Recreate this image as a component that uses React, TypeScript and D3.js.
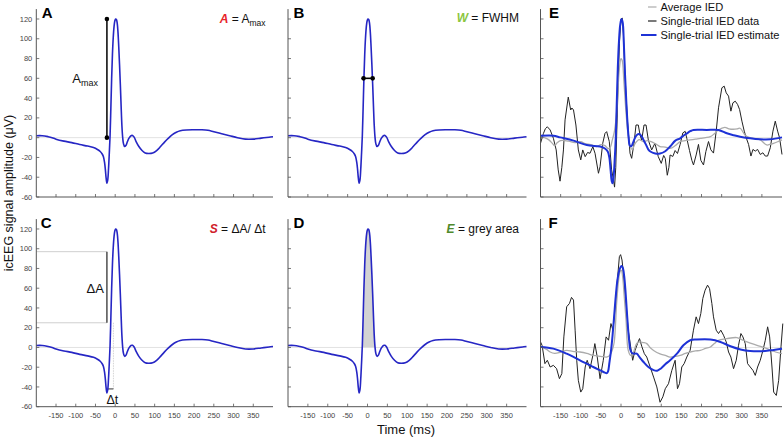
import React from 'react';
import * as d3 from 'd3';

// ---------- data ----------
const X_TICKS = [-150, -100, -50, 0, 50, 100, 150, 200, 250, 300, 350];
const Y_TICKS = [-60, -40, -20, 0, 20, 40, 60, 80, 100, 120];
const X_DOMAIN = [-200, 400];
const Y_DOMAIN = [-60, 130];

// average IED waveform (panels A-D)
const AVG_T = [-200, -185, -170, -160, -150, -130, -110, -90, -70, -55, -45, -38, -33, -30, -27, -25, -23, -21, -19, -17, -15, -13, -11, -9, -7, -5, -3, -1, 1, 3, 5, 7, 9, 11, 13, 15, 17, 19, 21, 24, 27, 31, 35, 40, 44, 48, 53, 60, 68, 76, 85, 95, 105, 115, 125, 135, 145, 155, 165, 180, 200, 220, 235, 250, 270, 290, 310, 330, 350, 370, 390, 400];
const AVG_V = [2, 2, 1, 0, -1.5, -3.5, -5, -7, -8.5, -10, -12, -14, -16.5, -19, -25, -32, -41, -46, -43, -32, -16, 2, 30, 60, 84, 101, 112, 118, 120, 119.5, 116, 107, 92, 74, 54, 32, 12, 0, -6, -9, -8, -4, -0.5, 2, 2.2, 0.5, -4, -9, -13, -15.5, -16, -15.5, -13, -9, -4.5, -0.5, 3, 5.5, 7, 7.8, 8, 8, 7.5, 6, 4, 2, 0, -1.5, -1.5, -0.5, 0.5, 1];

// annotation values
const AMAX_T = -21;
const AMAX_V = 120;
const FWHM_T = [-10, 13];
const FWHM_V = 60;
const DA_V = [25, 97];
const DT_T = [-19, -4.5];
const DT_V = -42;
const AREA_T = [-18, 24];

// panel E
const E_DATA_T = [-200, -193, -188, -183, -176, -168, -161, -156, -151.5, -147, -143, -139, -131, -125, -122, -118, -112, -106, -100, -95, -89, -83, -77, -70, -64.5, -56, -52, -45.4, -39.7, -35.6, -29, -23.3, -19, -16, -13, -9, -4, 0, 3, 6, 10, 15.8, 22.4, 26.5, 32.3, 37.3, 43, 47.3, 51.4, 57.2, 62.2, 67.9, 76.2, 84.3, 92.6, 100, 106, 110, 115, 119, 122, 128.7, 134.5, 140.3, 147, 153.6, 159.4, 163.5, 170.2, 176, 180.1, 186.7, 192.5, 198.3, 205, 210.8, 217.4, 223.2, 229.8, 236.5, 242.3, 250.6, 256.4, 261.4, 267.2, 273, 278, 283.8, 289.6, 294.6, 300.4, 306.2, 311.2, 317, 322.8, 327.8, 333.6, 339.4, 346, 352.6, 358.4, 364.2, 370.9, 377.5, 383.3, 389.1, 394, 400];
const E_DATA_V = [-5.7, 4, 9, 11, 7.8, -0.6, -12.4, -32.6, -44, -30, -12.4, 18, 41, 28, 30, 28, 12.8, -12.4, -22.5, -12.4, -19.2, -15, -15.8, -9.1, -15.8, -36, -29.3, -5.7, 4.4, 6.1, -4, -32.6, -42, -50, -30, 28, 95, 120, 121, 105, 62, 18, -15.8, -20.9, -5.7, 12.8, 12.8, 2.7, -2.4, 12.8, 12.8, -2.4, -12.4, -5.7, -19.2, -26, -18, -21, -38, -30, -17.5, -19, -13, -16, -6.8, 4.8, 6.4, -0.7, -13, -22.9, -27.6, -17.5, -6.8, -22.9, -27.6, -14.1, -3.9, -12.3, -15.6, 6.5, 30.2, 50.4, 52.1, 45.3, 42, 26.8, 35.2, 36.9, 33.6, 28.5, 16.7, 6.6, -0.2, -6.9, -18.6, -11.9, -13.6, -11.9, -17, -15.3, -18.6, -18.6, -10.2, 6.6, 16.7, 6.6, -0.2, -17];
const E_AVG_T = [-200, -190, -180, -170, -165, -158, -150, -130, -115, -100, -90, -75, -60, -50, -40, -32, -27, -22, -17, -12, -8, -4, 0, 3, 7, 12, 17, 22, 28, 35, 45, 55, 65, 75, 85, 97, 110, 122, 135, 147, 160, 172, 185, 197, 210, 222, 232, 242, 258, 268, 279, 290, 296, 308, 320, 329, 346, 362, 372, 379, 390, 400];
const E_AVG_V = [1, 0, -2, -6, -8, -5, -3, -3.5, -5, -4, -6, -7, -9, -7, -8, -11, -10, -3, 5, 20, 45, 70, 80, 78, 58, 28, 5, -8, -12, -6, -2, -4, -3, -4, -6, -9, -9.5, -10.8, -8, -4, -3, -2.3, -1.5, -0.7, 0, 1, 4, 7.8, 10.4, 9, 8.5, 9, 9.5, 2.8, 0, -0.7, -2.3, -7.4, -6.5, -5.7, -4, -2.3];
const E_EST_T = [-200, -168, -151, -118, -85, -52, -40, -33, -29, -26, -23, -21, -19, -16, -13, -11, -8, -5, -2, 1, 4, 7, 10, 13, 16, 19, 22, 26, 30, 35, 40, 45, 50, 55, 62, 68, 75, 85, 97, 109, 122, 135, 147, 155, 164, 172, 180, 213, 242, 263, 280, 296, 321, 346, 371, 400];
const E_EST_V = [1.9, 2, 0.3, -3, -7.5, -9, -11, -14, -20, -32, -44, -46, -42, -25, 0, 28, 70, 98, 114, 120, 117, 96, 64, 38, 16, 0, -8, -8.5, -5, 0, 3, 3.6, 2, -1.5, -7, -12, -14.5, -16, -16, -14, -9, -3, -0.7, 2, 4.4, 6.5, 7.8, 7.8, 7.8, 4.4, 2.5, 1, -0.7, -1.7, -1.7, 0.3];

// panel F
const F_DATA_T = [-200, -196, -189, -183, -176, -168, -160, -153, -147, -142, -135, -128, -123, -118, -114, -110, -106, -100, -95, -89, -84, -77, -69, -65, -59, -52, -44, -37, -31, -25, -20, -15, -9, -4, -1, 2.5, 6, 12.5, 18, 24, 29, 35, 41, 46, 52, 58, 64, 72.5, 81, 89, 97, 104, 110, 118, 126.3, 134.5, 140.3, 145.3, 151, 156.9, 163.5, 171.8, 180, 186.7, 192.5, 198.3, 203.3, 209, 215, 220, 225.7, 229.8, 236.5, 242.3, 248, 254.7, 261.4, 267.2, 273, 279.6, 286.3, 292, 297.9, 302.9, 308.7, 314.5, 321.1, 327.8, 333.6, 339.4, 346, 352.7, 358.5, 364.3, 369.3, 375.1, 379.3, 385.9, 391.7, 397.5, 402];
const F_DATA_V = [5.6, 2, -16.4, -13, -19.8, -18.1, -21.5, -31.6, -26.5, 10.7, 41.2, 44.6, 50.7, 48, 17.5, -13, -33.3, -45.2, -41.8, -19.8, -13, -21.5, -6.3, 3.9, -9.7, -31.6, -13, 10.7, 7.3, 24.2, 17.5, 37.8, 68.3, 92, 94, 88.6, 75, 44.6, 17.5, 0.6, -13, -2.9, 3.9, 9, 0.6, -6.3, -9.7, -19.8, -30, -40, -55.5, -50, -41.8, -36.7, -23.2, -13, -41.8, -36.7, -19.8, -16.4, -9.7, -2.9, 17.5, 31, 24.2, 34.4, 49.6, 58, 63.1, 59.7, 44.6, 31, 17.5, 14.1, 17.5, 12.4, 5.6, -4.6, -9.7, -21.5, -13, 2.2, 14.1, 10.7, 3.9, -16.4, -19.8, -23.2, -28.3, -19.8, -13, -2.9, 7.3, 20.9, 10.7, -19.8, -45.2, -48.6, -33.3, 0.6, 24.2];
const F_AVG_T = [-200, -185, -176, -165, -151, -135, -120, -102, -85, -69, -50, -36, -28, -22, -17, -11, -6, -2, 1, 4, 8, 12.5, 18, 24, 30, 39, 47, 55, 64, 72, 81, 97, 110, 122, 135, 147, 160, 172, 185, 197, 210, 222, 232, 242, 263, 288, 300, 313, 338, 363, 384, 400];
const F_AVG_V = [0.5, -2, -4.6, -6, -5, -3, -4, -4.6, -6, -8, -9, -9.7, -8, -3, 5, 44, 68, 77, 78, 72, 52, 28, -3, -8, -6, 4, 5.6, 5, 3.9, 0, -3, -6.5, -8, -9.7, -9, -8, -6, -4.6, -3.5, -3, -1, 0.5, 4, 7.3, 9, 10, 8, 5.6, 2.2, -1.2, -4.6, -6.3];
const F_EST_T = [-200, -168, -135, -102, -69, -50, -40, -35, -32, -29, -25, -21, -17, -13, -9, -5, -1, 2, 5, 8, 11, 14, 17, 20, 23, 27, 32, 39, 46, 56, 68, 81, 90, 100, 110, 122, 139, 155, 172, 188, 222, 247, 272, 297, 321, 346, 371, 400];
const F_EST_V = [0.5, -1.2, -6.3, -13, -19.8, -23.5, -25.5, -26, -24, -16, -4, 12, 32, 52, 68, 77, 81.5, 82.5, 80, 72, 58, 40, 22, 8, -2, -5.5, -6.3, -6.3, -9.7, -14.7, -19.8, -23, -23.5, -21, -17, -13, -6.3, 2.2, 7.3, 8, 8, 5.6, 1.2, -2, -3.6, -3.9, -2.9, -1.2];

const LEGEND = ['Average IED', 'Single-trial IED data', 'Single-trial IED estimate'];

// ---------- layout ----------
const FONT = 'Liberation Sans, Arial, Helvetica, sans-serif';
const COL_X = [36.3, 288, 540.5];
const COL_W = [236.7, 238.5, 241.5];
const ROW_Y = [9.1, 219.1];
const ROW_H = [187.9, 187.6];
const BLUE = '#2626c4';
const BLUE2 = '#1e32d6';

type Pt = [number, number];
const zip = (t: number[], v: number[]): Pt[] => t.map((d, i) => [d, v[i]]);

interface PanelProps {
  col: number;
  row: number;
  letter: string;
  letterDx: number;
  showYLabels: boolean;
  showXLabels: boolean;
  children: (x: d3.ScaleLinear<number, number>, y: d3.ScaleLinear<number, number>) => React.ReactNode;
}

function Panel({ col, row, letter, letterDx, showYLabels, showXLabels, children }: PanelProps) {
  const x0 = COL_X[col];
  const w = COL_W[col];
  const y0 = ROW_Y[row];
  const h = ROW_H[row];
  const x = d3.scaleLinear().domain(X_DOMAIN).range([x0, x0 + w]);
  const y = d3.scaleLinear().domain(Y_DOMAIN).range([y0 + h, y0]);
  const bottom = y0 + h;
  return (
    <g>
      <line x1={x0} x2={x0 + w} y1={y(0)} y2={y(0)} stroke="#e2e2e2" strokeWidth={1} />
      {children(x, y)}
      <line x1={x0} x2={x0} y1={y0} y2={bottom} stroke="#555" strokeWidth={1} />
      <line x1={x0} x2={x0 + w} y1={bottom} y2={bottom} stroke="#555" strokeWidth={1} />
      {X_TICKS.map((t) => (
        <g key={'x' + t}>
          <line x1={x(t)} x2={x(t)} y1={bottom} y2={bottom - 3} stroke="#555" strokeWidth={0.8} />
          {showXLabels && (
            <text x={x(t)} y={bottom + 11} fontSize={7.5} fill="#444" textAnchor="middle" fontFamily={FONT}>
              {t}
            </text>
          )}
        </g>
      ))}
      {Y_TICKS.map((v) => (
        <g key={'y' + v}>
          <line x1={x0} x2={x0 + 3} y1={y(v)} y2={y(v)} stroke="#555" strokeWidth={0.8} />
          {showYLabels && (
            <text x={x0 - 4} y={y(v) + 2.6} fontSize={7.5} fill="#444" textAnchor="end" fontFamily={FONT}>
              {v}
            </text>
          )}
        </g>
      ))}
      <text x={x0 + letterDx} y={y0 + 8.4} fontSize={15} fontWeight="bold" fontFamily={FONT} fill="#000">
        {letter}
      </text>
    </g>
  );
}

export default function App() {
  const smooth = d3.curveCatmullRom.alpha(0.5);
  const avg = zip(AVG_T, AVG_V);
  const mkLine = (x: any, y: any, c: any) =>
    d3.line<Pt>().x((d) => x(d[0])).y((d) => y(d[1])).curve(c);

  const avgCurve = (x: any, y: any) => (
    <path d={mkLine(x, y, smooth)(avg) || ''} fill="none" stroke={BLUE} strokeWidth={1.6} />
  );

  const trialPanel = (dataT: number[], dataV: number[], avgT: number[], avgV: number[], estT: number[], estV: number[]) =>
    (x: any, y: any) => (
      <g>
        <path d={mkLine(x, y, d3.curveLinear)(zip(dataT, dataV)) || ''} fill="none" stroke="#222" strokeWidth={1} />
        <path d={mkLine(x, y, smooth)(zip(avgT, avgV)) || ''} fill="none" stroke="#ababab" strokeWidth={1.3} />
        <path d={mkLine(x, y, smooth)(zip(estT, estV)) || ''} fill="none" stroke={BLUE2} strokeWidth={2} />
      </g>
    );

  const annot = (x0: number, w: number, yb: number, sym: string, symColor: string, rest: React.ReactNode) => (
    <text x={x0 + w - 7.5} y={yb} fontSize={12} fontFamily={FONT} textAnchor="end" fill="#111">
      <tspan fill={symColor} fontWeight="bold" fontStyle="italic">{sym}</tspan>
      {rest}
    </text>
  );

  return (
    <svg width={784} height={437} style={{ position: 'absolute', left: 0, top: 0, background: '#fff' }}>
      <rect width={784} height={437} fill="#fff" />
      {/* A */}
      <Panel col={0} row={0} letter="A" letterDx={5.5} showYLabels showXLabels={false}>
        {(x, y) => (
          <g>
            <line x1={x(AMAX_T)} x2={x(AMAX_T)} y1={y(0)} y2={y(AMAX_V)} stroke="#000" strokeWidth={1.5} />
            {avgCurve(x, y)}
            <circle cx={x(AMAX_T)} cy={y(0)} r={2.3} fill="#000" />
            <circle cx={x(AMAX_T)} cy={y(AMAX_V)} r={2.3} fill="#000" />
            <text x={x(AMAX_T) - 9} y={y(55)} fontSize={13} fontFamily={FONT} textAnchor="end" fill="#111">
              A<tspan fontSize={9} dy={3}>max</tspan>
            </text>
            {annot(COL_X[0], COL_W[0], 23, 'A', '#e8242a', <tspan> = A<tspan fontSize={8.5} dy={3}>max</tspan></tspan>)}
          </g>
        )}
      </Panel>
      {/* B */}
      <Panel col={1} row={0} letter="B" letterDx={5.5} showYLabels={false} showXLabels={false}>
        {(x, y) => (
          <g>
            {avgCurve(x, y)}
            <line x1={x(FWHM_T[0])} x2={x(FWHM_T[1])} y1={y(FWHM_V)} y2={y(FWHM_V)} stroke="#000" strokeWidth={1.6} />
            <circle cx={x(FWHM_T[0])} cy={y(FWHM_V)} r={2.3} fill="#000" />
            <circle cx={x(FWHM_T[1])} cy={y(FWHM_V)} r={2.3} fill="#000" />
            {annot(COL_X[1], COL_W[1], 22, 'W', '#8cc63f', ' = FWHM')}
          </g>
        )}
      </Panel>
      {/* C */}
      <Panel col={0} row={1} letter="C" letterDx={4.5} showYLabels showXLabels>
        {(x, y) => (
          <g>
            {DA_V.map((v) => (
              <line key={v} x1={x(X_DOMAIN[0])} x2={x(AMAX_T)} y1={y(v)} y2={y(v)} stroke="#cfcfcf" strokeWidth={1} />
            ))}
            <line x1={x(DT_T[1])} x2={x(DT_T[1])} y1={y(DA_V[0])} y2={y(DT_V)} stroke="#d4d4d4" strokeWidth={1} strokeDasharray="1.5,1" />
            <line x1={x(AMAX_T)} x2={x(AMAX_T)} y1={y(DA_V[0])} y2={y(DA_V[1])} stroke="#333" strokeWidth={1.3} />
            <line x1={x(DT_T[0])} x2={x(DT_T[1])} y1={y(DT_V)} y2={y(DT_V)} stroke="#333" strokeWidth={1} />
            {avgCurve(x, y)}
            <text x={x(AMAX_T) - 3} y={y(55)} fontSize={13} fontFamily={FONT} textAnchor="end" fill="#111">ΔA</text>
            <text x={x(DT_T[1]) - 1} y={y(DT_V) + 15} fontSize={12.5} fontFamily={FONT} textAnchor="middle" fill="#111">Δt</text>
            {annot(COL_X[0], COL_W[0], 233, 'S', '#d0202a', ' = ΔA/ Δt')}
          </g>
        )}
      </Panel>
      {/* D */}
      <Panel col={1} row={1} letter="D" letterDx={5.5} showYLabels={false} showXLabels>
        {(x, y) => {
          const area = d3.area<Pt>().x((d) => x(d[0])).y0(y(0)).y1((d) => y(d[1])).curve(smooth);
          return (
            <g>
              <defs>
                <clipPath id="areaClip">
                  <rect x={x(AREA_T[0])} y={y(Y_DOMAIN[1])} width={x(AREA_T[1]) - x(AREA_T[0])} height={y(0) - y(Y_DOMAIN[1])} />
                </clipPath>
              </defs>
              <path d={area(avg) || ''} fill="#d3d3d3" clipPath="url(#areaClip)" />
              {avgCurve(x, y)}
              {annot(COL_X[1], COL_W[1], 233, 'E', '#4f8a2c', ' = grey area')}
            </g>
          );
        }}
      </Panel>
      {/* E */}
      <Panel col={2} row={0} letter="E" letterDx={8.5} showYLabels={false} showXLabels={false}>
        {trialPanel(E_DATA_T, E_DATA_V, E_AVG_T, E_AVG_V, E_EST_T, E_EST_V)}
      </Panel>
      {/* F */}
      <Panel col={2} row={1} letter="F" letterDx={8} showYLabels={false} showXLabels>
        {trialPanel(F_DATA_T, F_DATA_V, F_AVG_T, F_AVG_V, F_EST_T, F_EST_V)}
      </Panel>

      {/* legend */}
      {LEGEND.map((label, i) => (
        <g key={label}>
          <line x1={i === 2 ? 641 : 648} x2={656.5} y1={7 + i * 14} y2={7 + i * 14}
            stroke={i === 0 ? '#ababab' : i === 1 ? '#222' : BLUE2} strokeWidth={i === 2 ? 2 : 1.2} />
          <text x={660.5} y={11.2 + i * 14} fontSize={11.1} fontFamily={FONT} fill="#111">{label}</text>
        </g>
      ))}

      {/* axis titles */}
      <text transform="translate(12.5,193) rotate(-90)" fontSize={12.5} fontFamily={FONT} textAnchor="middle" fill="#111">
        icEEG signal amplitude (μV)
      </text>
      <text x={406} y={434} fontSize={13} fontFamily={FONT} textAnchor="middle" fill="#111">Time (ms)</text>
    </svg>
  );
}
